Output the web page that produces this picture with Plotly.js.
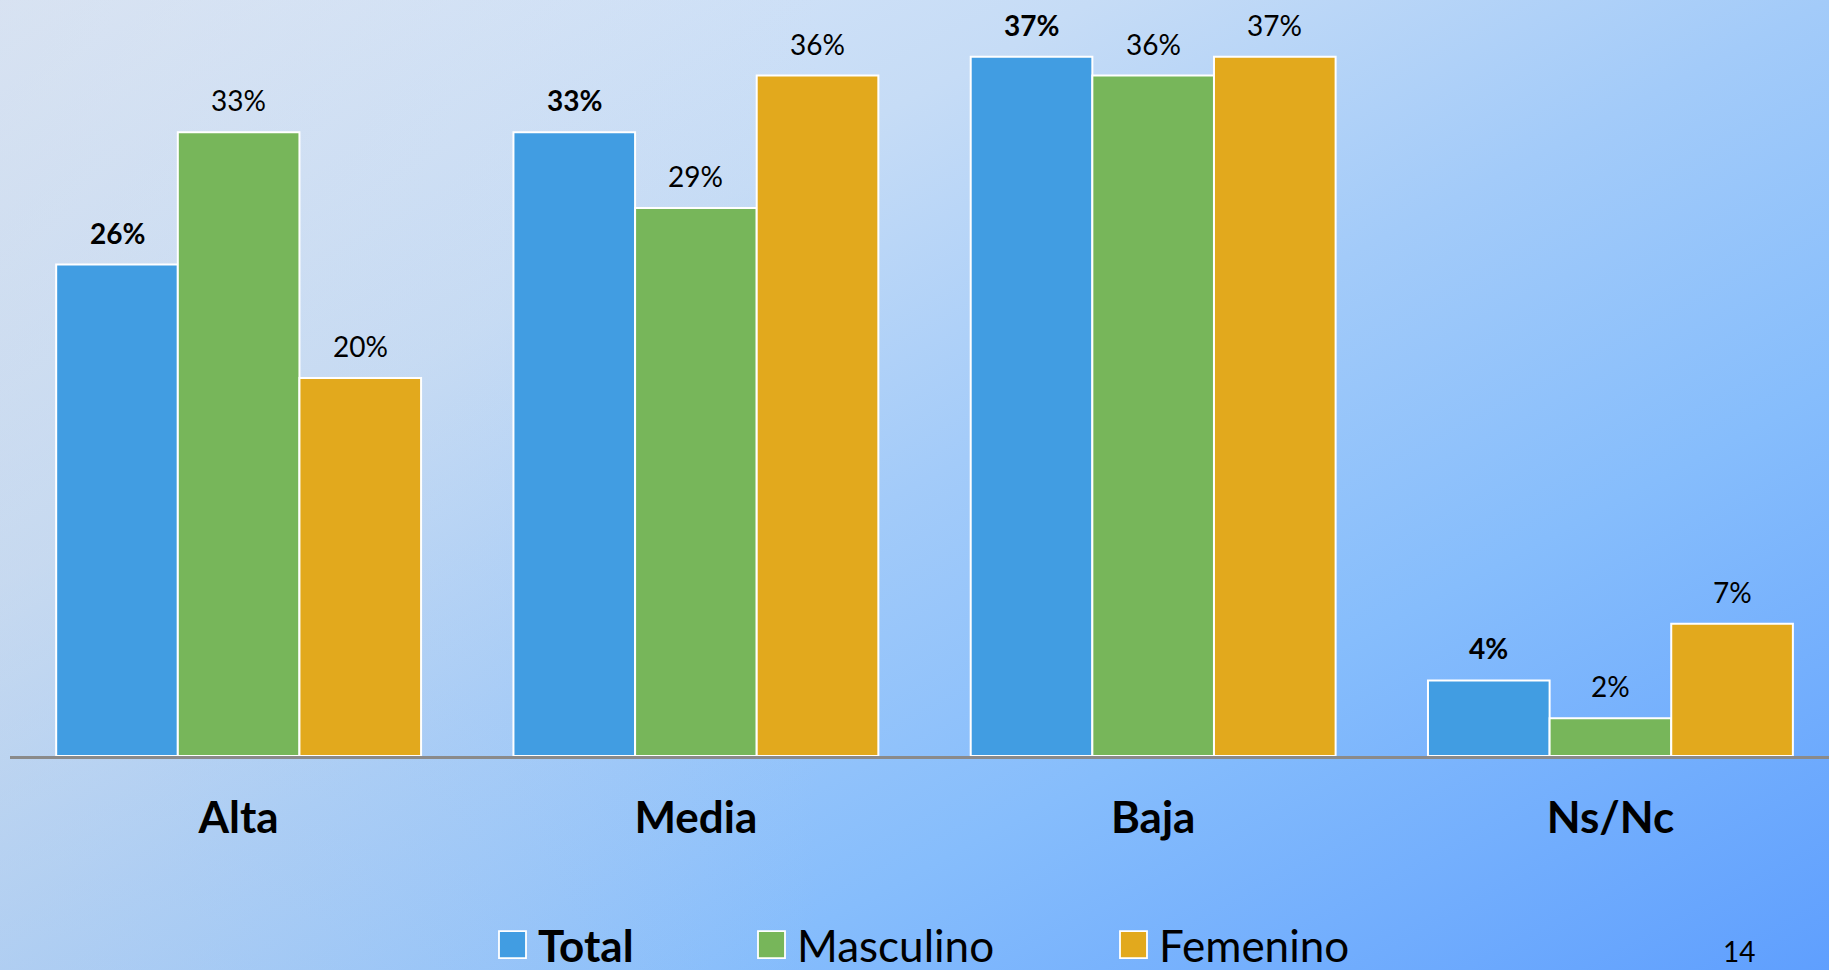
<!DOCTYPE html>
<html>
<head>
<meta charset="utf-8">
<script src="https://cdn.plot.ly/plotly-3.0.1.min.js"></script>
<style>
html, body { margin: 0; padding: 0; width: 1829px; height: 970px; overflow: hidden; }
body {
  background:
    linear-gradient(to right, rgba(200,212,228,0.35) 0%, rgba(200,212,228,0) 45%),
    linear-gradient(to bottom right, #e0eaf9 0%, #c6dcf6 30%, #a3cbf9 50%, #86bdfc 70%, #5f9ffe 100%);
}
#chart { width: 1829px; height: 970px; }
.legendpoints path { transform: translate(14.5px, 0px) scale(2.25); stroke-width: 0.8px !important; }
.scrollbox { clip-path: none !important; }
</style>
</head>
<body>
<div id="chart"></div>
<script>
const categories = ["Alta", "Media", "Baja", "Ns/Nc"];
const seriesNames = ["Total", "Masculino", "Femenino"];
const seriesColors = ["#419de2", "#77b65a", "#e2a91d"];
const totalValues = [26, 33, 37, 4];
const masculinoValues = [33, 29, 36, 2];
const femeninoValues = [20, 36, 37, 7];
const seriesValues = [totalValues, masculinoValues, femeninoValues];
const pageNumber = "14";

const FONT = "Lato, 'Noto Sans', sans-serif";
const barPx = 121.6;
const legendIds = ["legend", "legend2", "legend3"];
const legendX = [498, 757, 1119];

const traces = seriesValues.map((vals, j) => ({
  type: "bar",
  name: j === 0 ? "<b>" + seriesNames[j] + "</b>" : seriesNames[j],
  x: categories,
  y: vals,
  legend: legendIds[j],
  marker: { color: seriesColors[j], line: { color: "#ffffff", width: 2 } },
  hoverinfo: "skip"
}));

const annotations = [];
seriesValues.forEach((vals, j) => {
  vals.forEach((v, i) => {
    annotations.push({
      x: categories[i], y: v, xref: "x", yref: "y",
      xshift: (j - 1) * barPx, yshift: 13,
      yanchor: "bottom", showarrow: false,
      text: j === 0 ? "<b>" + v + "%</b>" : v + "%",
      font: { family: FONT, size: 28, color: "#000" }
    });
  });
});
annotations.push({
  xref: "paper", yref: "paper",
  x: (1739 - 10) / 1819, y: -(951 - 756) / 756,
  text: pageNumber, showarrow: false, xanchor: "center", yanchor: "middle",
  font: { family: FONT, size: 28, color: "#000" }
});

const legendBase = {
  orientation: "h",
  xref: "container", yref: "container",
  y: 25 / 970,
  xanchor: "left", yanchor: "middle",
  font: { family: FONT, size: 44, color: "#000" },
  bgcolor: "rgba(0,0,0,0)"
};

const layout = {
  width: 1829, height: 970,
  margin: { l: 10, r: 0, t: 0, b: 214 },
  paper_bgcolor: "rgba(0,0,0,0)",
  plot_bgcolor: "rgba(0,0,0,0)",
  barmode: "group",
  bargap: 0.202,
  bargroupgap: 0,
  font: { family: FONT, color: "#000" },
  xaxis: {
    type: "category",
    range: [-0.5, 3.478],
    showline: true, linecolor: "#8a8a8a", linewidth: 2.5,
    showgrid: false, zeroline: false, ticks: "",
    tickfont: { family: FONT, size: 44, color: "#000", weight: "bold" },
    ticklabelstandoff: 22
  },
  yaxis: { range: [0, 40], visible: false, showgrid: false, zeroline: false },
  showlegend: true,
  legend: Object.assign({}, legendBase, { x: legendX[0] / 1829 }),
  legend2: Object.assign({}, legendBase, { x: legendX[1] / 1829 }),
  legend3: Object.assign({}, legendBase, { x: legendX[2] / 1829 }),
  annotations: annotations
};

Plotly.newPlot("chart", traces, layout, { displayModeBar: false, staticPlot: true });
</script>
</body>
</html>
